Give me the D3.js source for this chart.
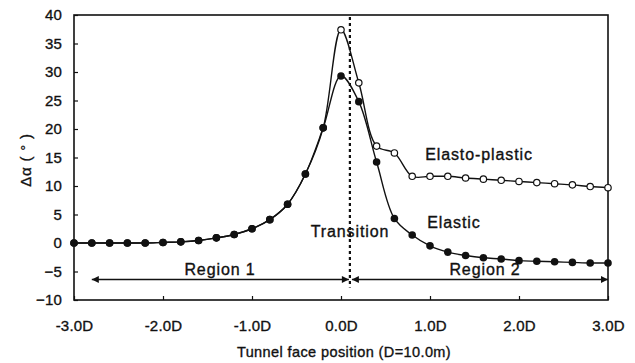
<!DOCTYPE html>
<html>
<head>
<meta charset="utf-8">
<script src="https://cdn.jsdelivr.net/npm/d3@7"></script>
<style>
  html, body { margin: 0; padding: 0; background: #fff; }
  svg { display: block; font-family: "Liberation Sans", Arial, sans-serif; }
  svg text { stroke: #111; stroke-width: 0.35px; }
</style>
</head>
<body>
<svg id="chart" width="635" height="363"></svg>
<script>
// Tunnel face position, in units of D (D = 10.0 m), every 0.2D
const positions = [-3.0, -2.8, -2.6, -2.4, -2.2, -2.0, -1.8, -1.6, -1.4, -1.2, -1.0,
                   -0.8, -0.6, -0.4, -0.2, 0.0, 0.2, 0.4, 0.6, 0.8, 1.0,
                   1.2, 1.4, 1.6, 1.8, 2.0, 2.2, 2.4, 2.6, 2.8, 3.0];

// Δα (degrees) for the elastic analysis
const elastic = [0, 0, 0, 0, 0, 0.1, 0.2, 0.45, 0.9, 1.5, 2.5,
                 4.1, 6.8, 12.1, 20.2, 29.3, 24.8, 14.2, 4.3, 1.4, -0.5,
                 -1.6, -2.2, -2.6, -2.8, -3.1, -3.2, -3.3, -3.4, -3.5, -3.5];

// Δα (degrees) for the elasto-plastic analysis
const elastoPlastic = [0, 0, 0, 0, 0, 0.1, 0.2, 0.45, 0.9, 1.5, 2.5,
                       4.1, 6.8, 12.1, 20.2, 37.4, 28.1, 17.0, 15.8, 11.7, 11.7,
                       11.7, 11.4, 11.2, 11.0, 10.8, 10.6, 10.4, 10.2, 9.9, 9.7];

const xTickValues = [-3, -2, -1, 0, 1, 2, 3];
const xTickLabels = ["-3.0D", "-2.0D", "-1.0D", "0.0D", "1.0D", "2.0D", "3.0D"];
const yTickValues = [-10, -5, 0, 5, 10, 15, 20, 25, 30, 35, 40];

// Transition position and region boundaries (D units), arrow level (degrees)
const transitionAt = 0.1;
const region1 = [-2.8, 0.1];
const region2 = [0.1, 3.0];
const regionArrowLevel = -6.4;

const svg = d3.select("#chart");
const plotLeft = 74, plotRight = 608, plotTop = 15, plotBottom = 300;

const x = d3.scaleLinear().domain([-3, 3]).range([plotLeft, plotRight]);
const y = d3.scaleLinear().domain([-10, 40]).range([plotBottom, plotTop]);

const ink = "#111";

// Axes with inward ticks
const xAxis = svg.append("g")
  .attr("transform", `translate(0,${plotBottom})`)
  .call(d3.axisBottom(x).tickValues(xTickValues)
    .tickFormat((d, i) => xTickLabels[i])
    .tickSizeInner(-4).tickSizeOuter(0).tickPadding(20));
const yAxis = svg.append("g")
  .attr("transform", `translate(${plotLeft},0)`)
  .call(d3.axisLeft(y).tickValues(yTickValues)
    .tickSizeInner(-4).tickSizeOuter(0).tickPadding(12));

[xAxis, yAxis].forEach(g => {
  g.select(".domain").remove();
  g.selectAll(".tick line").attr("stroke", ink).attr("stroke-width", 1.2);
  g.selectAll(".tick text")
    .attr("fill", ink)
    .style("font-size", "15px")
    .style("letter-spacing", "0.2px");
});

// Plot frame
svg.append("rect")
  .attr("x", plotLeft).attr("y", plotTop)
  .attr("width", plotRight - plotLeft).attr("height", plotBottom - plotTop)
  .attr("fill", "none").attr("stroke", ink).attr("stroke-width", 1.6);

// Transition line
svg.append("line")
  .attr("x1", x(transitionAt)).attr("x2", x(transitionAt))
  .attr("y1", plotTop + 2).attr("y2", y(regionArrowLevel) + 8)
  .attr("stroke", ink).attr("stroke-width", 2.2)
  .attr("stroke-dasharray", "3,3");

// Region arrows
const defs = svg.append("defs");
defs.append("marker")
  .attr("id", "head").attr("viewBox", "0 0 10 10")
  .attr("refX", 10).attr("refY", 5)
  .attr("markerWidth", 8).attr("markerHeight", 7)
  .attr("markerUnits", "userSpaceOnUse")
  .attr("orient", "auto-start-reverse")
  .append("path").attr("d", "M0,0 L10,5 L0,10 Z").attr("fill", ink);

[region1, region2].forEach(r => {
  svg.append("line")
    .attr("x1", x(r[0]) + (r === region2 ? 2 : 0)).attr("x2", x(r[1]) - (r === region1 ? 1 : 0))
    .attr("y1", y(regionArrowLevel)).attr("y2", y(regionArrowLevel))
    .attr("stroke", ink).attr("stroke-width", 1.6)
    .attr("marker-start", "url(#head)").attr("marker-end", "url(#head)");
});

// Series lines
const pts = vals => positions.map((p, i) => [p, vals[i]]);
const line = d3.line()
  .x(d => x(d[0])).y(d => y(d[1]))
  .curve(d3.curveCatmullRom.alpha(0.5));

svg.append("path").datum(pts(elastoPlastic))
  .attr("d", line).attr("fill", "none")
  .attr("stroke", ink).attr("stroke-width", 1.4);
svg.append("path").datum(pts(elastic))
  .attr("d", line).attr("fill", "none")
  .attr("stroke", ink).attr("stroke-width", 1.4);

// Elasto-plastic markers (open circles)
svg.append("g").selectAll("circle")
  .data(pts(elastoPlastic))
  .join("circle")
  .attr("cx", d => x(d[0])).attr("cy", d => y(d[1]))
  .attr("r", 3.2)
  .attr("fill", "#fff").attr("stroke", ink).attr("stroke-width", 1.2);

// Elastic markers (filled circles)
svg.append("g").selectAll("circle")
  .data(pts(elastic))
  .join("circle")
  .attr("cx", d => x(d[0])).attr("cy", d => y(d[1]))
  .attr("r", 3.8)
  .attr("fill", ink);

// In-plot labels
const labels = [
  { text: "Elasto-plastic", x: 479, y: 160 },
  { text: "Elastic", x: 454, y: 228 },
  { text: "Transition", x: 350, y: 237 },
  { text: "Region 1", x: 220, y: 275 },
  { text: "Region 2", x: 485, y: 275 }
];
svg.append("g").selectAll("text")
  .data(labels)
  .join("text")
  .attr("x", d => d.x).attr("y", d => d.y)
  .attr("text-anchor", "middle")
  .attr("fill", ink)
  .style("font-size", "16px")
  .style("letter-spacing", "0.9px")
  .text(d => d.text);

// Axis titles
svg.append("text")
  .attr("x", (plotLeft + plotRight) / 2 + 3).attr("y", 357)
  .attr("text-anchor", "middle").attr("fill", ink)
  .style("font-size", "14.5px").style("letter-spacing", "0.4px")
  .text("Tunnel face position (D=10.0m)");

svg.append("text")
  .attr("transform", "translate(31,160) rotate(-90)")
  .attr("text-anchor", "middle").attr("fill", ink)
  .style("font-size", "15px").style("letter-spacing", "0.8px")
  .text("Δα ( ° )");
</script>
</body>
</html>
